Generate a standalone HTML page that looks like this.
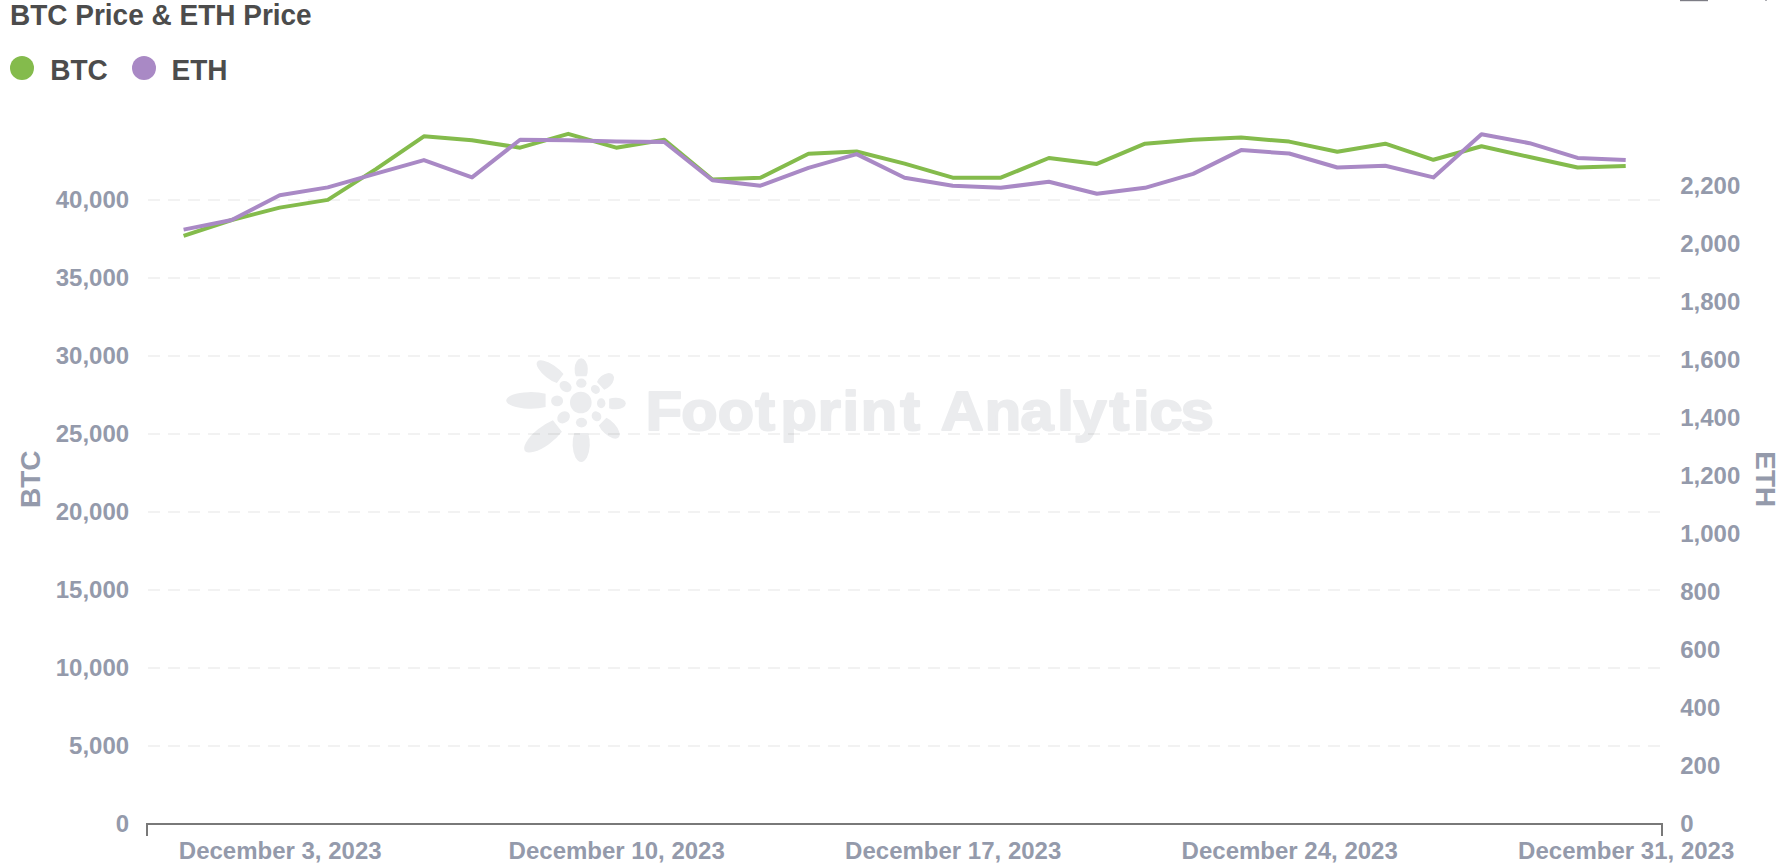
<!DOCTYPE html>
<html lang="en">
<head>
<meta charset="utf-8">
<title>BTC Price &amp; ETH Price</title>
<style>
html,body{margin:0;padding:0;background:#fff;}
body{width:1788px;height:868px;overflow:hidden;position:relative;font-family:"Liberation Sans",Arial,Helvetica,sans-serif;}
svg{position:absolute;left:0;top:0;display:block;}
text{font-family:"Liberation Sans",Arial,Helvetica,sans-serif;font-weight:bold;}
.title{font-size:28px;fill:#4c4c4c;}
.legend{font-size:28px;fill:#4c4c4c;}
.ax text{font-size:24px;fill:#949aab;}
.axt{font-size:28px;fill:#949aab;}
.grid line{stroke:#000;stroke-opacity:0.052;stroke-width:2;stroke-dasharray:12 8;}
.wm{fill:#ebecee;}
.wmt{font-size:55px;fill:#ebecee;stroke:#ebecee;stroke-width:2;stroke-linejoin:round;}
</style>
</head>
<body>
<svg width="1788" height="868" viewBox="0 0 1788 868">
<rect width="1788" height="868" fill="#ffffff"/>
<!-- top-right cropped controls -->
<rect x="1680" y="0" width="28" height="1.2" fill="#7d7d85"/>
<rect x="1765" y="0" width="2" height="0.8" fill="#9a9aa2"/>

<!-- watermark -->
<g class="wm">
<circle cx="580.8" cy="402.5" r="10.8"/>
<path transform="translate(545.6 400.4) rotate(180.0)" d="M0,-6.64 A24.62,8.30 0 1 1 0,6.64 Z"/>
<path transform="translate(560.2 378.6) rotate(216.3)" d="M0,-5.60 A17.81,7.00 0 1 1 0,5.60 Z"/>
<path transform="translate(581.2 376.3) rotate(-90.0)" d="M0,-5.28 A11.25,6.60 0 1 1 0,5.28 Z"/>
<path transform="translate(600.6 385.8) rotate(-42.7)" d="M0,-5.28 A10.31,6.60 0 1 1 0,5.28 Z"/>
<path transform="translate(609.2 403.5) rotate(0.0)" d="M0,-4.68 A10.38,5.85 0 1 1 0,4.68 Z"/>
<path transform="translate(602.6 421.6) rotate(45.0)" d="M0,-5.44 A14.06,6.80 0 1 1 0,5.44 Z"/>
<path transform="translate(581.2 432.9) rotate(90.0)" d="M0,-6.88 A18.12,8.60 0 1 1 0,6.88 Z"/>
<path transform="translate(557.4 426.0) rotate(142.5)" d="M0,-7.40 A25.62,9.25 0 1 1 0,7.40 Z"/>
<ellipse cx="565.6" cy="386.6" rx="6.5" ry="5" transform="rotate(35 565.6 386.6)"/>
<ellipse cx="581.3" cy="383.2" rx="5.2" ry="4.6" transform="rotate(0 581.3 383.2)"/>
<ellipse cx="595.4" cy="389.4" rx="4.8" ry="4.2" transform="rotate(45 595.4 389.4)"/>
<ellipse cx="601.2" cy="403.2" rx="4.2" ry="5" transform="rotate(0 601.2 403.2)"/>
<ellipse cx="596.5" cy="416.3" rx="5.2" ry="4.6" transform="rotate(50 596.5 416.3)"/>
<ellipse cx="581.5" cy="422.6" rx="5.6" ry="4.8" transform="rotate(0 581.5 422.6)"/>
<ellipse cx="563.6" cy="417.3" rx="6.8" ry="5.6" transform="rotate(-40 563.6 417.3)"/>
<ellipse cx="557.1" cy="400.9" rx="6" ry="5.4" transform="rotate(0 557.1 400.9)"/>
</g>
<text class="wmt" transform="translate(0 429.8) scale(1.08 1)" x="597.9 630.8 664.7 699.2 722.7 757.2 780.0 797.0 833.6 852.3 871.1 911.7 944.9 979.0 994.0 1027.3 1049.0 1064.3 1093.2" y="0">Footprint Analytics</text>

<!-- grid -->
<g class="grid">
<line x1="148" x2="1660" y1="746" y2="746"/>
<line x1="148" x2="1660" y1="668" y2="668"/>
<line x1="148" x2="1660" y1="590" y2="590"/>
<line x1="148" x2="1660" y1="512" y2="512"/>
<line x1="148" x2="1660" y1="434" y2="434"/>
<line x1="148" x2="1660" y1="356" y2="356"/>
<line x1="148" x2="1660" y1="278" y2="278"/>
<line x1="148" x2="1660" y1="200" y2="200"/>
</g>

<!-- series -->
<polyline fill="none" stroke="#84bb4c" stroke-width="4" stroke-linejoin="round" points="183.6,235.8 231.7,220.0 279.7,207.6 327.8,199.9 375.9,169.1 423.9,136.3 472.0,140.2 520.1,147.7 568.2,133.8 616.2,147.7 664.3,139.7 712.4,179.5 760.4,177.7 808.5,153.7 856.6,151.5 904.6,163.6 952.7,177.7 1000.8,177.7 1048.9,158.0 1096.9,163.9 1145.0,143.7 1193.1,139.7 1241.1,137.6 1289.2,141.6 1337.3,151.8 1385.3,143.7 1433.4,159.8 1481.5,146.3 1529.6,157.0 1577.6,167.5 1625.7,166.0"/>
<polyline fill="none" stroke="#a989c5" stroke-width="4" stroke-linejoin="round" points="183.6,229.6 231.7,220.0 279.7,195.2 327.8,187.4 375.9,173.7 423.9,160.1 472.0,177.4 520.1,139.7 568.2,140.2 616.2,141.6 664.3,142.0 712.4,180.2 760.4,185.7 808.5,167.9 856.6,154.1 904.6,177.7 952.7,185.7 1000.8,187.8 1048.9,181.7 1096.9,193.8 1145.0,187.8 1193.1,173.9 1241.1,150.1 1289.2,153.5 1337.3,167.5 1385.3,165.8 1433.4,177.4 1481.5,134.2 1529.6,143.2 1577.6,157.9 1625.7,160.1"/>

<!-- axes -->
<path d="M147,836 V824 H1662 V836" fill="none" stroke="#797979" stroke-width="2"/>
<g class="ax">
<text text-anchor="end" transform="translate(129.1 832.3) scale(1 1.0)">0</text>
<text text-anchor="end" transform="translate(129.1 754.3) scale(1 1.0)">5,000</text>
<text text-anchor="end" transform="translate(129.1 676.3) scale(1 1.0)">10,000</text>
<text text-anchor="end" transform="translate(129.1 598.3) scale(1 1.0)">15,000</text>
<text text-anchor="end" transform="translate(129.1 520.3) scale(1 1.0)">20,000</text>
<text text-anchor="end" transform="translate(129.1 442.3) scale(1 1.0)">25,000</text>
<text text-anchor="end" transform="translate(129.1 364.3) scale(1 1.0)">30,000</text>
<text text-anchor="end" transform="translate(129.1 286.3) scale(1 1.0)">35,000</text>
<text text-anchor="end" transform="translate(129.1 208.3) scale(1 1.0)">40,000</text>
<text transform="translate(1680.2 832.3) scale(1 1.0)">0</text>
<text transform="translate(1680.2 774.3) scale(1 1.0)">200</text>
<text transform="translate(1680.2 716.3) scale(1 1.0)">400</text>
<text transform="translate(1680.2 658.3) scale(1 1.0)">600</text>
<text transform="translate(1680.2 600.3) scale(1 1.0)">800</text>
<text transform="translate(1680.2 542.3) scale(1 1.0)">1,000</text>
<text transform="translate(1680.2 484.3) scale(1 1.0)">1,200</text>
<text transform="translate(1680.2 426.3) scale(1 1.0)">1,400</text>
<text transform="translate(1680.2 368.3) scale(1 1.0)">1,600</text>
<text transform="translate(1680.2 310.3) scale(1 1.0)">1,800</text>
<text transform="translate(1680.2 252.3) scale(1 1.0)">2,000</text>
<text transform="translate(1680.2 194.3) scale(1 1.0)">2,200</text>
<text text-anchor="middle" transform="translate(280.2 858.8) scale(1 1.0)">December 3, 2023</text>
<text text-anchor="middle" transform="translate(616.7 858.8) scale(1 1.0)">December 10, 2023</text>
<text text-anchor="middle" transform="translate(953.2 858.8) scale(1 1.0)">December 17, 2023</text>
<text text-anchor="middle" transform="translate(1289.7 858.8) scale(1 1.0)">December 24, 2023</text>
<text text-anchor="middle" transform="translate(1626.2 858.8) scale(1 1.0)">December 31, 2023</text>
</g>
<text class="axt" text-anchor="middle" transform="translate(40.2 479.2) rotate(-90) scale(1 1.02)">BTC</text>
<text class="axt" text-anchor="middle" transform="translate(1756.0 479.2) rotate(90) scale(1 1.02)">ETH</text>

<!-- title + legend -->
<text class="title" transform="translate(10.0 25.0) scale(1 1.04)">BTC Price &amp; ETH Price</text>
<circle cx="22" cy="68" r="12" fill="#84bb4c"/>
<text class="legend" transform="translate(50.3 80.0) scale(1 1.04)">BTC</text>
<circle cx="144" cy="68" r="12" fill="#a989c5"/>
<text class="legend" transform="translate(171.5 80.0) scale(1 1.04)">ETH</text>
</svg>
</body>
</html>
